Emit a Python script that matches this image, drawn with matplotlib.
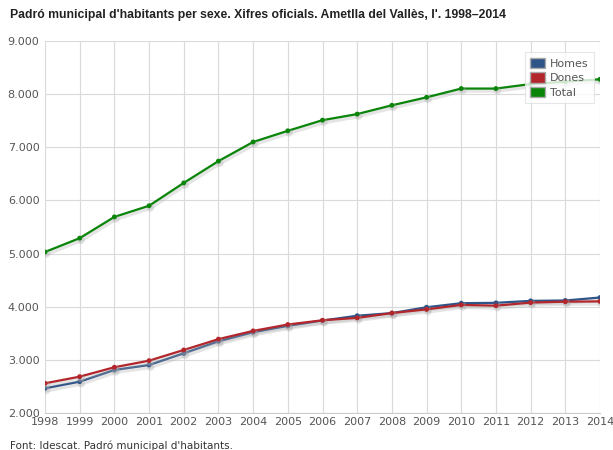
import matplotlib
matplotlib.use("Agg")
import matplotlib.pyplot as plt
import matplotlib.patheffects as pe
from matplotlib.patches import Patch
from matplotlib.ticker import FuncFormatter

# ─── Data ────────────────────────────────────────────────────────────────────
years = list(range(1998, 2015))
homes = [2465, 2590, 2810, 2904, 3124, 3350, 3520, 3640, 3740, 3830,
         3880, 3990, 4066, 4073, 4110, 4117, 4173]
dones = [2559, 2684, 2861, 2985, 3186, 3390, 3545, 3665, 3745, 3790,
         3880, 3950, 4034, 4020, 4077, 4095, 4100]
total = [5030, 5290, 5690, 5900, 6330, 6740, 7100, 7310, 7510, 7625,
         7790, 7940, 8105, 8105, 8190, 8235, 8280]

series = [("Homes", homes, "#2f5488"),
          ("Dones", dones, "#b3262b"),
          ("Total", total, "#0a850a")]

TITLE = "Padró municipal d'habitants per sexe. Xifres oficials. Ametlla del Vallès, l'. 1998\u20132014"
SOURCE = "Font: Idescat. Padró municipal d'habitants."

# ─── Figure ──────────────────────────────────────────────────────────────────
fig = plt.figure(figsize=(6.13, 4.5), dpi=100)
ax = fig.add_axes([45 / 613, 1 - 413 / 450, 555 / 613, 372 / 450])

shadow = [pe.SimpleLineShadow(offset=(1, -1.5), shadow_color="#aaaaaa", alpha=0.3, linewidth=3),
          pe.Normal()]
for name, vals, color in series:
    ax.plot(years, vals, color=color, lw=1.6, marker="o", ms=2.5, zorder=3,
            path_effects=shadow)

ax.set_xlim(1998, 2014)
ax.set_ylim(2000, 9000)
ax.set_xticks(years)
ax.set_yticks(range(2000, 9001, 1000))
ax.yaxis.set_major_formatter(FuncFormatter(lambda v, p: f"{int(v):,}".replace(",", ".")))
ax.grid(True, color="#dadada", lw=0.8)
ax.set_axisbelow(True)
for s in ["top", "right", "left"]:
    ax.spines[s].set_visible(False)
ax.spines["bottom"].set_color("#cccccc")
ax.tick_params(length=0, labelsize=8, colors="#555555")
ax.tick_params(axis="x", pad=3)
ax.tick_params(axis="y", pad=4)

handles = [Patch(facecolor=c, edgecolor="#aaaaaa", label=n) for n, _, c in series]
leg = ax.legend(handles=handles, loc="upper right", bbox_to_anchor=(1.0, 0.985),
                fontsize=8, frameon=True, fancybox=False, handlelength=1.3,
                handleheight=1.1, handletextpad=0.5, labelspacing=0.3,
                borderpad=0.5)
leg.get_frame().set_edgecolor("#e0e0e0")
leg.get_frame().set_linewidth(0.8)
for t in leg.get_texts():
    t.set_color("#555555")

fig.text(10 / 613, 1 - 15 / 450, TITLE, fontsize=8.8, fontweight="bold",
         family="Liberation Sans", color="#222222", va="center", ha="left")
fig.text(10 / 613, 1 - 446 / 450, SOURCE, fontsize=7.5, color="#333333",
         va="center", ha="left")

fig.savefig("out.png", dpi=100)
